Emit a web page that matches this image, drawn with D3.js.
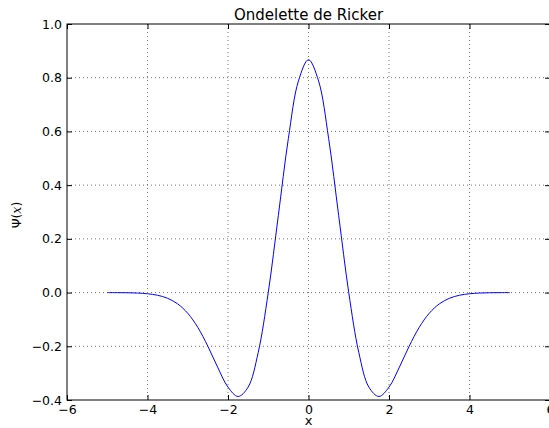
<!DOCTYPE html>
<html>
<head>
<meta charset="utf-8">
<script src="https://cdn.jsdelivr.net/npm/d3@7"></script>
<style>
  body { margin: 0; background: #fff; }
  svg { display: block; font-family: "DejaVu Sans", sans-serif; }
</style>
</head>
<body>
<div id="stage_id"></div>
<script>
// valeurs (pas de 0.25)
var xValues = [-5, -4.75, -4.5, -4.25, -4, -3.75, -3.5, -3.25, -3, -2.75, -2.5, -2.25, -2, -1.75, -1.5, -1.25, -1, -0.75, -0.5, -0.25,
               0, 0.25, 0.5, 0.75, 1, 1.25, 1.5, 1.75, 2, 2.25, 2.5, 2.75, 3, 3.25, 3.5, 3.75, 4, 4.25, 4.5, 4.75, 5];
var psiValues = [-0.0001, -0.0002, -0.0007, -0.0018, -0.0044, -0.0100, -0.0213, -0.0422, -0.0771, -0.1297, -0.2001, -0.2803,
                 -0.3521, -0.3869, -0.3520, -0.2233, 0.0, 0.2864, 0.5740, 0.7881,
                 0.867,
                 0.7881, 0.5740, 0.2864, 0.0, -0.2233, -0.3520, -0.3869, -0.3521, -0.2803, -0.2001, -0.1297, -0.0771,
                 -0.0422, -0.0213, -0.0100, -0.0044, -0.0018, -0.0007, -0.0002, -0.0001];
var xTicks = [-6, -4, -2, 0, 2, 4, 6];
var yTicks = [-0.4, -0.2, 0.0, 0.2, 0.4, 0.6, 0.8, 1.0];

var chartTitle = "Ondelette de Ricker";
var xLabel = "x";

var cx = 549, cy = 428;
var margin = {top: 24, right: -1, bottom: 28, left: 67};
var width = cx - margin.left - margin.right;
var height = cy - margin.top - margin.bottom;

var svg = d3.select("#stage_id")
  .append("svg")
  .attr("width", cx)
  .attr("height", cy);

var g = svg.append("g")
  .attr("transform", "translate(" + margin.left + "," + margin.top + ")");

var xScale = d3.scaleLinear().domain([-6, 6]).range([0, width]);
var yScale = d3.scaleLinear().domain([-0.4, 1.0]).range([height, 0]);

// grille pointillée
g.append("g").selectAll("line")
  .data(xTicks.slice(1, -1))
  .enter().append("line")
  .attr("x1", function(d) { return xScale(d); })
  .attr("x2", function(d) { return xScale(d); })
  .attr("y1", 0).attr("y2", height)
  .attr("stroke", "#777").attr("stroke-width", 1).attr("stroke-dasharray", "1,3");

g.append("g").selectAll("line")
  .data(yTicks.slice(1, -1))
  .enter().append("line")
  .attr("y1", function(d) { return yScale(d); })
  .attr("y2", function(d) { return yScale(d); })
  .attr("x1", 0).attr("x2", width)
  .attr("stroke", "#777").attr("stroke-width", 1).attr("stroke-dasharray", "1,3");

// courbe
var line = d3.line()
  .x(function(d, i) { return xScale(xValues[i]); })
  .y(function(d) { return yScale(d); })
  .curve(d3.curveCatmullRom);

g.append("path")
  .datum(psiValues)
  .attr("fill", "none")
  .attr("stroke", "#0000ff")
  .attr("stroke-width", 1)
  .attr("d", line);

// axes (ticks vers l'intérieur)
var xAxis = d3.axisBottom(xScale)
  .tickValues(xTicks)
  .tickFormat(function(d) { return d < 0 ? "\u2212" + Math.abs(d) : d; })
  .tickSizeInner(-5).tickSizeOuter(0).tickPadding(5);
var xAxisTop = d3.axisTop(xScale).tickValues(xTicks).tickFormat("").tickSizeInner(-5).tickSizeOuter(0);
var yAxis = d3.axisLeft(yScale)
  .tickValues(yTicks)
  .tickFormat(function(d) { var s = d3.format(".1f")(Math.abs(d)); return d < -1e-9 ? "\u2212" + s : s; })
  .tickSizeInner(-5).tickSizeOuter(0).tickPadding(5);
var yAxisRight = d3.axisRight(yScale).tickValues(yTicks).tickFormat("").tickSizeInner(-5).tickSizeOuter(0);

g.append("g").attr("transform", "translate(0," + height + ")").call(xAxis);
g.append("g").call(xAxisTop);
g.append("g").call(yAxis);
g.append("g").attr("transform", "translate(" + width + ",0)").call(yAxisRight);

g.selectAll(".domain").remove();
g.selectAll(".tick line").attr("stroke", "#000");
g.selectAll(".tick text")
  .attr("fill", "#000")
  .attr("font-family", "DejaVu Sans")
  .attr("font-size", null)
  .style("font-size", "12.5px");

g.append("rect")
  .attr("width", width).attr("height", height)
  .attr("fill", "none").attr("stroke", "#000").attr("stroke-width", 1);

// textes
svg.append("text")
  .attr("x", margin.left + width / 2).attr("y", 20)
  .attr("text-anchor", "middle")
  .style("font-size", "15px")
  .text(chartTitle);

svg.append("text")
  .attr("x", margin.left + width / 2).attr("y", 425)
  .attr("text-anchor", "middle")
  .style("font-size", "13px")
  .text(xLabel);

var yLab = svg.append("text")
  .attr("transform", "translate(21," + (margin.top + height / 2 + 3) + ") rotate(-90)")
  .attr("text-anchor", "middle")
  .style("font-size", "12.5px");
yLab.append("tspan").text("\u03A8(");
yLab.append("tspan").style("font-style", "italic").style("font-family", "'DejaVu Serif', serif").text("x");
yLab.append("tspan").text(")");
</script>
</body>
</html>
